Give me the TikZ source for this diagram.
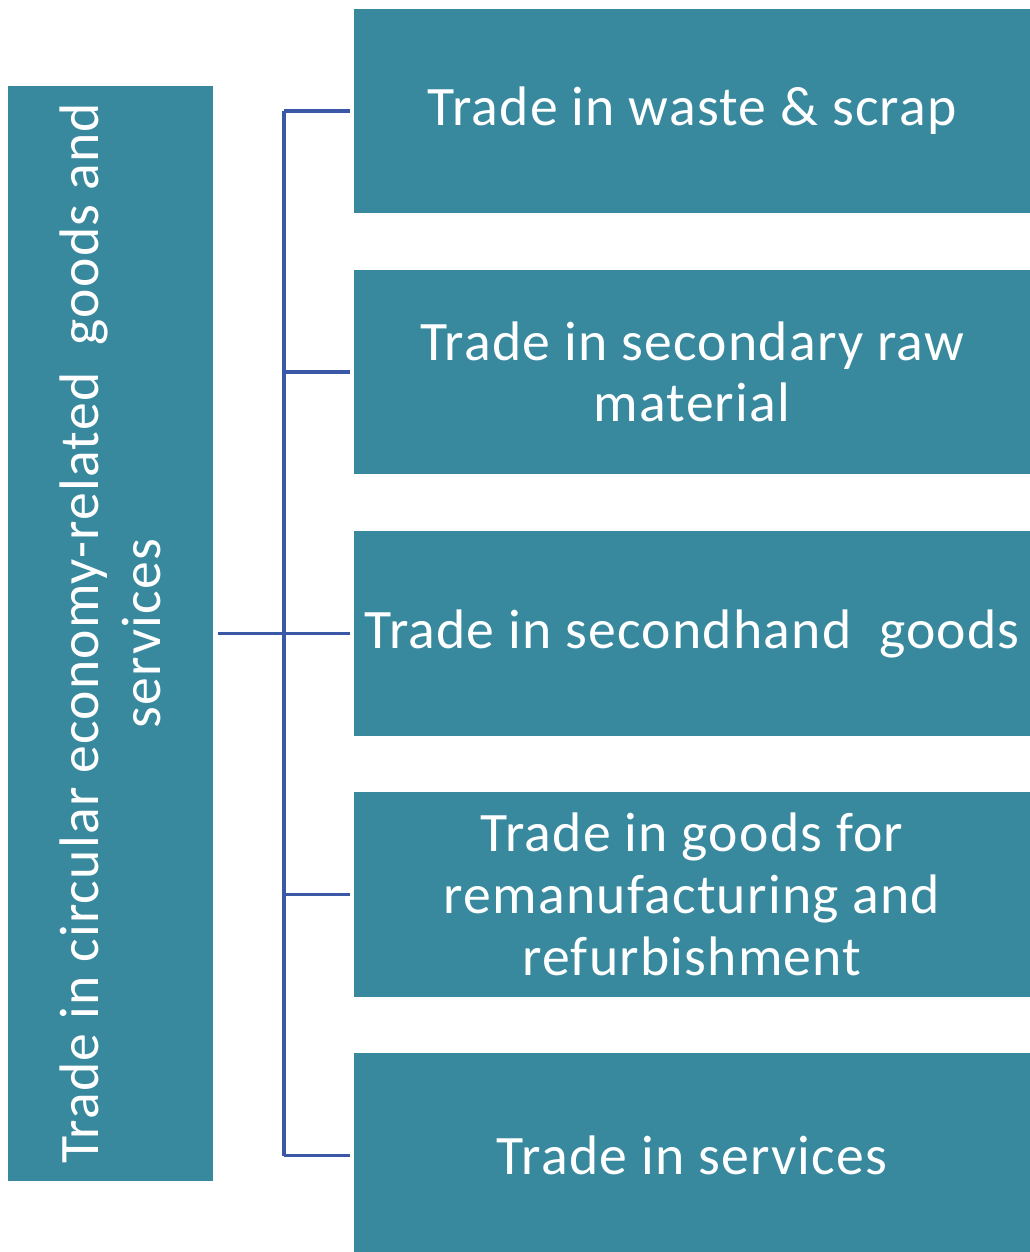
\documentclass[tikz,border=0pt]{standalone}
\usepackage{fontspec}
\setmainfont{Carlito}[LetterSpace=2.2]
\usepackage{xcolor}
\usepackage{tikz}
\definecolor{boxteal}{RGB}{56, 137, 158}
\definecolor{linkblue}{RGB}{58, 88, 165}

\begin{document}
\begin{tikzpicture}[
        x=0.02cm, y=-0.02cm,
        mainbox/.style={rectangle, fill=boxteal, minimum width=21.9cm, minimum height=4.1cm, inner sep=0pt, text=white, align=center, font=\fontsize{31.7}{35.1}\selectfont},
        tradebox/.style={rectangle, fill=boxteal, minimum width=13.52cm, minimum height=4.1cm, inner sep=0pt, text=white, align=center, font=\fontsize{31.7}{35.1}\selectfont},
        link/.style={draw=linkblue, line width=1.8pt}
    ]
    \useasboundingbox (0,0) rectangle (1030,1252);

    % Left box with rotated title
    \node[mainbox, rotate=90] (main) at (110.5, 633.5) {Trade in circular economy-related\ \ goods and\\ services};

    % Boxes on the right
    \node[tradebox] (waste) at (692, 111) {Trade in waste \& scrap};
    \node[tradebox] (secondary) at (692, 372) {Trade in secondary raw\\ material};
    \node[tradebox] (secondhand) at (692, 633.5) {Trade in secondhand\ \ goods};
    \node[tradebox] (reman) at (692, 894.5) {Trade in goods for\\ remanufacturing and\\ refurbishment};
    \node[tradebox] (services) at (692, 1155.5) {Trade in services};

    % Bracket joining the boxes
    \coordinate (hub) at (284, 633.5);
    \coordinate (top) at (284, 111);
    \coordinate (bottom) at (284, 1155.5);
    \draw[link] ([xshift=0.1cm]main.south) -- (hub);
    \draw[link] (top) -- (bottom);
    \foreach \b in {waste, secondary, secondhand, reman, services}
        \draw[link] (hub |- \b.west) -- ([xshift=-0.08cm]\b.west);

\end{tikzpicture}
\end{document}
